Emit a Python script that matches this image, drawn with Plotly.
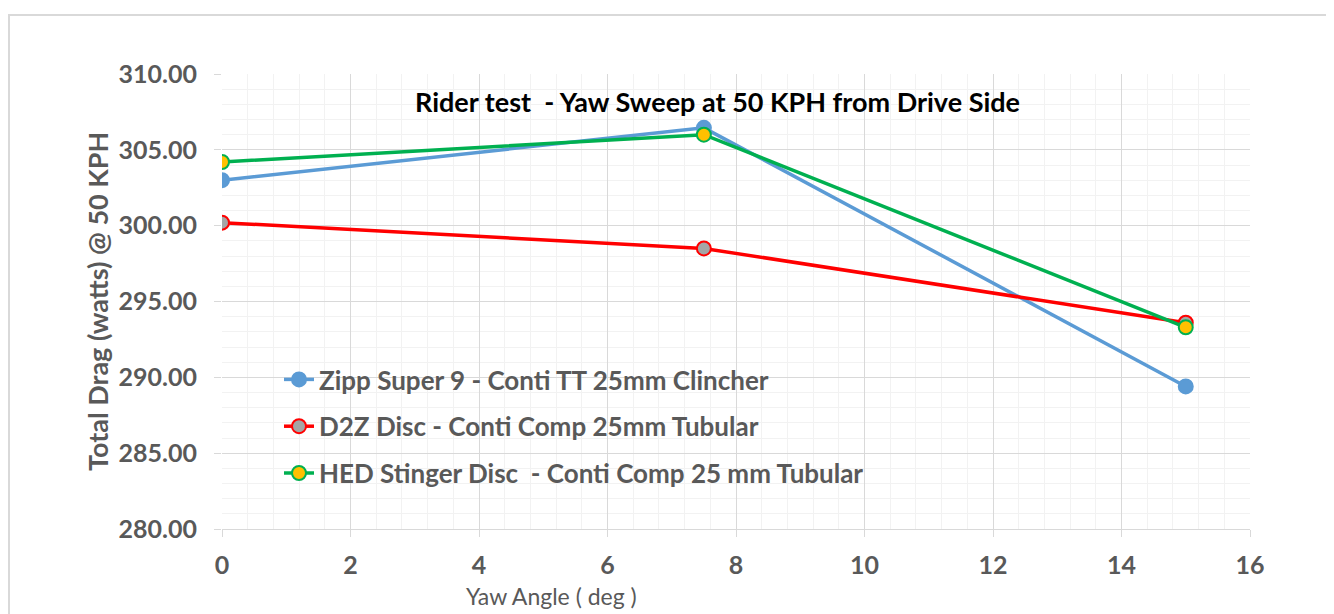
import plotly.graph_objects as go

yaw = [0, 7.5, 15]
zipp = [303.0, 306.45, 289.4]
d2z = [300.2, 298.5, 293.6]
hed = [304.2, 306.0, 293.3]
names = ["Zipp Super 9 - Conti TT 25mm Clincher",
         "D2Z Disc - Conti Comp 25mm Tubular",
         "HED Stinger Disc  - Conti Comp 25 mm Tubular"]
x_ticks = list(range(0, 17, 2))
y_ticks = [280, 285, 290, 295, 300, 305, 310]

# page body has an 8px margin; positions below are in figure (paper) pixels
W, H = 1326, 606
L, R, T, B = 214, 1242, 66, 521

def px(x):
    return (x - L) / (R - L)

def py(y):
    return (B - y) / (B - T)

FONT = "Lato"
GRAY = "#595959"

fig = go.Figure()
styles = [
    dict(line="#5B9BD5", fill="#5B9BD5", edge="#5B9BD5"),
    dict(line="#FF0000", fill="#A5A5A5", edge="#FF0000"),
    dict(line="#00B050", fill="#FFC000", edge="#00B050"),
]
for i, (ys, nm, st) in enumerate(zip([zipp, d2z, hed], names, styles)):
    fig.add_trace(go.Scatter(
        x=yaw, y=ys, name=nm, mode="lines+markers",
        legendgroup=f"g{i}",
        line=dict(color=st["line"], width=3.5),
        marker=dict(size=14, color=st["fill"], line=dict(color=st["edge"], width=2)),
    ))

fig.update_layout(
    width=W, height=H,
    margin=dict(l=L, r=W - R, t=T, b=H - B),
    paper_bgcolor="white", plot_bgcolor="white",
    font=dict(family=FONT, color=GRAY),
    showlegend=True,
    legend=dict(x=px(271), y=py(348), xanchor="left", yanchor="top",
                bgcolor="rgba(0,0,0,0)", tracegroupgap=10,
                font=dict(family=FONT, size=26, color=GRAY, weight="bold"),
                itemwidth=30),
    xaxis=dict(range=[0, 16], tickvals=x_ticks, ticktext=[str(v) for v in x_ticks],
               showgrid=True, gridcolor="#D9D9D9", gridwidth=1,
               minor=dict(dtick=0.4, showgrid=True, gridcolor="#F2F2F2", gridwidth=1),
               showline=True, linecolor="#D9D9D9", linewidth=1,
               ticks="outside", ticklen=7, tickcolor="#D9D9D9",
               tickfont=dict(family=FONT, size=25, color=GRAY, weight="bold"),
               ticklabelstandoff=7, zeroline=False, fixedrange=True),
    yaxis=dict(range=[280, 310], tickvals=y_ticks, ticktext=[f"{v:.2f}" for v in y_ticks],
               showgrid=True, gridcolor="#D9D9D9", gridwidth=1,
               minor=dict(dtick=1, showgrid=True, gridcolor="#F2F2F2", gridwidth=1),
               showline=False,
               ticks="outside", ticklen=7, tickcolor="#D9D9D9",
               tickfont=dict(family=FONT, size=25, color=GRAY, weight="bold"),
               ticklabelstandoff=12, zeroline=False, fixedrange=True),
    shapes=[dict(type="rect", xref="paper", yref="paper",
                 x0=px(1), x1=px(1400), y0=py(7), y1=py(700),
                 line=dict(color="#D9D9D9", width=2), layer="below")],
    annotations=[
        dict(text="Rider test  - Yaw Sweep at 50 KPH from Drive Side",
             xref="paper", yref="paper", x=px(709), y=py(93),
             xanchor="center", yanchor="middle", showarrow=False,
             font=dict(family=FONT, size=27, color="black", weight="bold")),
        dict(text="Yaw Angle ( deg )", xref="paper", yref="paper",
             x=px(543), y=py(604), xanchor="center", yanchor="bottom",
             showarrow=False, font=dict(family=FONT, size=23, color=GRAY)),
        dict(text="Total Drag (watts) @ 50 KPH", xref="paper", yref="paper",
             x=px(89), y=py(294), xanchor="center", yanchor="middle",
             textangle=-90, showarrow=False,
             font=dict(family=FONT, size=27, color=GRAY, weight="bold")),
    ],
)

fig.write_html("out.html")
